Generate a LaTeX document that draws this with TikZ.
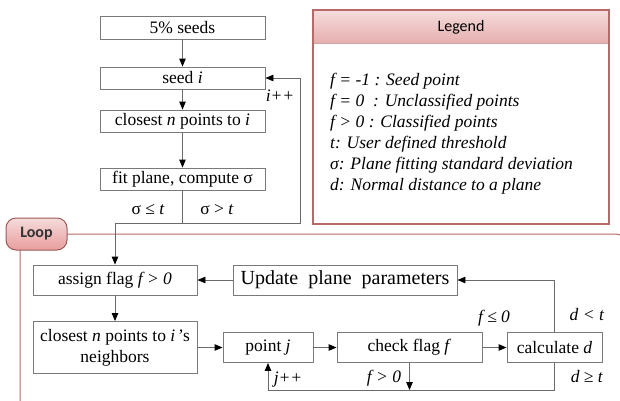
\documentclass[tikz,border=0pt]{standalone}
\usepackage{fontspec}
\setmainfont{Liberation Serif}[ItalicFont={Liberation Serif Italic},BoldFont={Liberation Serif Bold},BoldItalicFont={Liberation Serif Bold Italic}]
\newfontfamily\calibri{Carlito}[BoldFont={Carlito Bold}]
\usetikzlibrary{arrows.meta}
\definecolor{boxgray}{HTML}{7A7A7A}
\definecolor{linegray}{HTML}{6A6A6A}
\definecolor{redline}{HTML}{B86A6A}
\definecolor{pinktop}{HTML}{F5DCDC}
\definecolor{pinkbot}{HTML}{E6AEAE}
\tikzset{
  box/.style={draw=boxgray, line width=0.9pt, fill=white, inner sep=1pt,
    font=\fontsize{17.5}{20}\selectfont, align=center},
  ln/.style={draw=linegray, line width=0.9pt},
  arr/.style={ln, -{Triangle[length=8pt,width=6.5pt,fill=black,color=black]}},
  lbl/.style={font=\fontsize{17.5}{20}\selectfont, inner sep=0pt},
}
\begin{document}
\begin{tikzpicture}[x=1pt,y=-1pt]
\useasboundingbox (0,0) rectangle (620,400);
% loop frame
\begin{scope}
  \clip (0,0) rectangle (620,400);
  \draw[redline, line width=1pt, rounded corners=12pt] (20,234) rectangle (628,414);
\end{scope}
% legend
\draw[redline, line width=1.2pt, fill=white] (313,10) rectangle (609,224);
\shade[top color=pinktop, bottom color=pinkbot] (313.6,10.6) rectangle (608.4,43);
\draw[redline!60, line width=0.6pt] (313,43) -- (609,43);
\draw[redline, line width=1.2pt] (313,10) rectangle (609,224);
\node[font=\calibri\fontsize{16}{18}\selectfont] (legtitle) at (461,27) {Legend};
\node[anchor=north west, inner sep=0pt, align=left,
  font=\fontsize{17.5}{21}\selectfont\itshape] (legtext) at (330,73)
  {f = -1 : Seed point\\
   f = 0 \ : Unclassified points\\
   f > 0 : Classified points\\
   t: User defined threshold\\
   σ: Plane fitting standard deviation\\
   d: Normal distance to a plane};
% loop pill
\draw[redline!85!black, line width=1pt, top color=pinktop, bottom color=pinkbot!90!red, rounded corners=10pt]
  (6,218) rectangle (67,250);
\node[font=\calibri\bfseries\fontsize{16}{18}\selectfont, text=black!80] (looplbl) at (36.5,234) {Loop};
% top boxes
\node[box, minimum width=165pt, minimum height=23pt] (seeds) at (182.5,27.5) {5\% seeds};
\node[box, minimum width=165pt, minimum height=22pt] (seedi) at (182.5,78) {seed \textit{i}};
\node[box, minimum width=165pt, minimum height=22pt] (closest) at (182.5,121) {closest \textit{n} points to \textit{i}};
\node[box, minimum width=165pt, minimum height=22pt] (fit) at (182.5,179) {fit plane, compute σ};
% bottom boxes
\node[box, minimum width=164pt, minimum height=30pt] (assign) at (115,280) {assign flag \textit{f > 0}};
\node[box, minimum width=224pt, minimum height=30pt, font=\fontsize{20}{22}\selectfont] (update) at (345,280) {Update \ plane \ parameters};
\node[box, minimum width=164pt, minimum height=52pt, font=\fontsize{17.5}{21}\selectfont] (closestn) at (115,347.5) {closest \textit{n} points to \textit{i\,}’s\\neighbors};
\node[box, minimum width=90pt, minimum height=30pt] (pointj) at (268,347.5) {point \textit{j}};
\node[box, minimum width=145pt, minimum height=30pt] (check) at (409.5,347.5) {check flag \textit{f}};
\node[box, minimum width=95pt, minimum height=30pt] (calc) at (554.5,347.5) {calculate \textit{d}};
% coordinates
\coordinate (split) at (182.5,223);
\coordinate (ret) at (300,78);
\coordinate (bot) at (555,390);
% connectors
\draw[arr] (seeds) -- (seedi);
\draw[arr] (seedi) -- (closest);
\draw[arr] (closest) -- (fit);
\draw[ln] (fit.south) -- (split);
\draw[arr] (split) -| (assign.north);
\draw[arr] (split) -| (ret) -- (seedi.east);
\draw[arr] (update) -- (assign);
\draw[arr] (assign) -- (closestn);
\draw[arr] (closestn) -- (pointj);
\draw[arr] (pointj) -- (check);
\draw[arr] (check) -- (calc);
\draw[arr] (calc.north) |- (update.east);
\draw[arr] (calc.south) -- (calc.south |- bot) -| (pointj.south);
\draw[arr] (check.south) -- (check.south |- bot);
% labels
\node[lbl] (lle) at (148,210) {σ ≤ \textit{t}};
\node[lbl] (lgt) at (217,210) {σ > \textit{t}};
\node[lbl] (lii) at (280,96) {\textit{i++}};
\node[lbl] (ljj) at (288,380) {\textit{j++}};
\node[lbl] (lfle) at (494,318) {\textit{f ≤ 0}};
\node[lbl] (lfgt) at (384,378) {\textit{f > 0}};
\node[lbl] (ldlt) at (587,315) {\textit{d < t}};
\node[lbl] (ldge) at (587,377) {\textit{d ≥ t}};
\end{tikzpicture}
\end{document}
